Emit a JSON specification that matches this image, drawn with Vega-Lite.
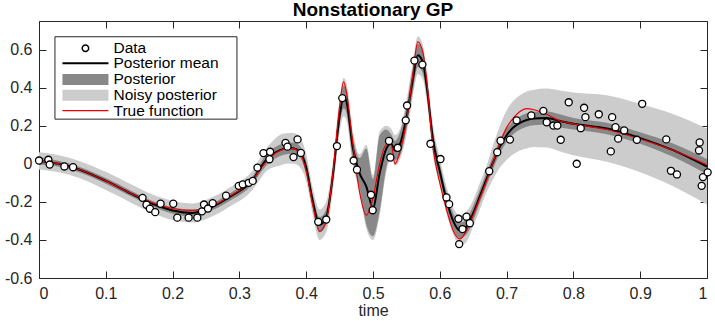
{
  "$schema": "https://vega.github.io/schema/vega-lite/v6.json",
  "width": 668,
  "height": 257,
  "autosize": {"type": "none"},
  "padding": {"left": 39, "top": 21, "right": 8, "bottom": 43},
  "background": "white",
  "title": {"text": "Nonstationary GP", "fontSize": 19, "fontWeight": "bold", "font": "Liberation Sans", "color": "black", "anchor": "middle", "offset": 1},
  "config": {
    "view": {"stroke": "#262626", "strokeWidth": 1},
    "axis": {"labelFont": "Liberation Sans", "labelFontSize": 16, "labelColor": "#262626", "tickColor": "#262626", "titleFont": "Liberation Sans", "titleFontSize": 16, "titleFontWeight": "normal", "titleColor": "#262626", "grid": false, "domain": false, "zindex": 1},
    "legend": {"orient": "none", "padding": 0, "title": null, "labelFont": "Liberation Sans", "labelFontSize": 15.5, "labelColor": "black", "labelLimit": 300, "symbolOpacity": 1}
  },
  "datasets": {
    "curves": [
      {"t":0.00,"m":0.015,"plo":-0.005,"phi":0.035,"nlo":-0.03,"nhi":0.06,"f":0.015},
      {"t":0.03,"m":0.0,"plo":-0.015,"phi":0.015,"nlo":-0.045,"nhi":0.045,"f":0.0},
      {"t":0.06,"m":-0.03,"plo":-0.045,"phi":-0.015,"nlo":-0.075,"nhi":0.015,"f":-0.03},
      {"t":0.10,"m":-0.09,"plo":-0.105,"phi":-0.075,"nlo":-0.138,"nhi":-0.042,"f":-0.09},
      {"t":0.14,"m":-0.16,"plo":-0.175,"phi":-0.145,"nlo":-0.208,"nhi":-0.112,"f":-0.16},
      {"t":0.17,"m":-0.21,"plo":-0.225,"phi":-0.195,"nlo":-0.258,"nhi":-0.162,"f":-0.205},
      {"t":0.20,"m":-0.245,"plo":-0.262,"phi":-0.228,"nlo":-0.295,"nhi":-0.195,"f":-0.235},
      {"t":0.23,"m":-0.258,"plo":-0.276,"phi":-0.24,"nlo":-0.308,"nhi":-0.208,"f":-0.245},
      {"t":0.26,"m":-0.225,"plo":-0.243,"phi":-0.207,"nlo":-0.275,"nhi":-0.175,"f":-0.22},
      {"t":0.29,"m":-0.165,"plo":-0.185,"phi":-0.145,"nlo":-0.215,"nhi":-0.115,"f":-0.16},
      {"t":0.31,"m":-0.12,"plo":-0.14,"phi":-0.10,"nlo":-0.17,"nhi":-0.07,"f":-0.115},
      {"t":0.32,"m":-0.085,"plo":-0.105,"phi":-0.065,"nlo":-0.135,"nhi":-0.035,"f":-0.085},
      {"t":0.33,"m":-0.03,"plo":-0.055,"phi":-0.005,"nlo":-0.085,"nhi":0.025,"f":-0.035},
      {"t":0.34,"m":0.02,"plo":-0.01,"phi":0.05,"nlo":-0.04,"nhi":0.08,"f":0.01},
      {"t":0.35,"m":0.05,"plo":0.02,"phi":0.08,"nlo":-0.02,"nhi":0.12,"f":0.045},
      {"t":0.36,"m":0.07,"plo":0.04,"phi":0.10,"nlo":-0.01,"nhi":0.15,"f":0.068},
      {"t":0.37,"m":0.08,"plo":0.05,"phi":0.11,"nlo":0.0,"nhi":0.16,"f":0.08},
      {"t":0.38,"m":0.082,"plo":0.052,"phi":0.112,"nlo":0.002,"nhi":0.162,"f":0.08},
      {"t":0.39,"m":0.065,"plo":0.035,"phi":0.095,"nlo":-0.015,"nhi":0.145,"f":0.06},
      {"t":0.40,"m":-0.02,"plo":-0.055,"phi":0.015,"nlo":-0.09,"nhi":0.05,"f":-0.04},
      {"t":0.41,"m":-0.20,"plo":-0.235,"phi":-0.165,"nlo":-0.27,"nhi":-0.13,"f":-0.22},
      {"t":0.42,"m":-0.32,"plo":-0.36,"phi":-0.28,"nlo":-0.40,"nhi":-0.24,"f":-0.355},
      {"t":0.43,"m":-0.28,"plo":-0.32,"phi":-0.24,"nlo":-0.36,"nhi":-0.20,"f":-0.30},
      {"t":0.44,"m":-0.06,"plo":-0.10,"phi":-0.02,"nlo":-0.14,"nhi":0.02,"f":-0.05},
      {"t":0.45,"m":0.25,"plo":0.20,"phi":0.30,"nlo":0.16,"nhi":0.34,"f":0.30},
      {"t":0.456,"m":0.35,"plo":0.29,"phi":0.41,"nlo":0.25,"nhi":0.45,"f":0.43},
      {"t":0.46,"m":0.33,"plo":0.27,"phi":0.39,"nlo":0.23,"nhi":0.43,"f":0.38},
      {"t":0.47,"m":0.08,"plo":0.02,"phi":0.14,"nlo":-0.01,"nhi":0.17,"f":0.10},
      {"t":0.48,"m":-0.05,"plo":-0.13,"phi":0.03,"nlo":-0.15,"nhi":0.05,"f":-0.15},
      {"t":0.49,"m":-0.12,"plo":-0.32,"phi":0.08,"nlo":-0.34,"nhi":0.10,"f":-0.27},
      {"t":0.50,"m":-0.23,"plo":-0.38,"phi":-0.08,"nlo":-0.40,"nhi":-0.06,"f":-0.18},
      {"t":0.51,"m":-0.05,"plo":-0.25,"phi":0.15,"nlo":-0.27,"nhi":0.17,"f":0.0},
      {"t":0.52,"m":0.08,"plo":-0.02,"phi":0.18,"nlo":-0.04,"nhi":0.20,"f":0.10},
      {"t":0.527,"m":0.105,"plo":0.055,"phi":0.155,"nlo":0.025,"nhi":0.185,"f":0.10},
      {"t":0.533,"m":0.07,"plo":0.02,"phi":0.12,"nlo":-0.01,"nhi":0.15,"f":0.0},
      {"t":0.54,"m":0.10,"plo":0.04,"phi":0.16,"nlo":0.02,"nhi":0.18,"f":0.06},
      {"t":0.55,"m":0.24,"plo":0.18,"phi":0.30,"nlo":0.15,"nhi":0.33,"f":0.22},
      {"t":0.56,"m":0.45,"plo":0.39,"phi":0.51,"nlo":0.36,"nhi":0.54,"f":0.48},
      {"t":0.567,"m":0.57,"plo":0.51,"phi":0.63,"nlo":0.47,"nhi":0.67,"f":0.64},
      {"t":0.575,"m":0.53,"plo":0.47,"phi":0.59,"nlo":0.44,"nhi":0.62,"f":0.58},
      {"t":0.58,"m":0.42,"plo":0.37,"phi":0.47,"nlo":0.34,"nhi":0.50,"f":0.45},
      {"t":0.59,"m":0.12,"plo":0.07,"phi":0.17,"nlo":0.04,"nhi":0.20,"f":0.08},
      {"t":0.60,"m":-0.04,"plo":-0.08,"phi":0.0,"nlo":-0.11,"nhi":0.03,"f":-0.10},
      {"t":0.61,"m":-0.19,"plo":-0.23,"phi":-0.15,"nlo":-0.26,"nhi":-0.12,"f":-0.24},
      {"t":0.62,"m":-0.30,"plo":-0.34,"phi":-0.26,"nlo":-0.37,"nhi":-0.23,"f":-0.35},
      {"t":0.63,"m":-0.35,"plo":-0.39,"phi":-0.31,"nlo":-0.43,"nhi":-0.27,"f":-0.395},
      {"t":0.64,"m":-0.33,"plo":-0.37,"phi":-0.29,"nlo":-0.41,"nhi":-0.25,"f":-0.35},
      {"t":0.65,"m":-0.26,"plo":-0.30,"phi":-0.22,"nlo":-0.33,"nhi":-0.19,"f":-0.27},
      {"t":0.66,"m":-0.17,"plo":-0.205,"phi":-0.135,"nlo":-0.24,"nhi":-0.10,"f":-0.18},
      {"t":0.67,"m":-0.08,"plo":-0.115,"phi":-0.045,"nlo":-0.15,"nhi":-0.01,"f":-0.09},
      {"t":0.68,"m":0.01,"plo":-0.025,"phi":0.045,"nlo":-0.08,"nhi":0.10,"f":0.01},
      {"t":0.69,"m":0.09,"plo":0.055,"phi":0.125,"nlo":-0.02,"nhi":0.20,"f":0.11},
      {"t":0.70,"m":0.15,"plo":0.115,"phi":0.185,"nlo":0.02,"nhi":0.28,"f":0.19},
      {"t":0.71,"m":0.19,"plo":0.155,"phi":0.225,"nlo":0.05,"nhi":0.33,"f":0.24},
      {"t":0.72,"m":0.215,"plo":0.18,"phi":0.25,"nlo":0.07,"nhi":0.36,"f":0.275},
      {"t":0.73,"m":0.23,"plo":0.195,"phi":0.265,"nlo":0.08,"nhi":0.38,"f":0.29},
      {"t":0.74,"m":0.238,"plo":0.203,"phi":0.273,"nlo":0.088,"nhi":0.388,"f":0.285},
      {"t":0.76,"m":0.24,"plo":0.205,"phi":0.275,"nlo":0.085,"nhi":0.395,"f":0.26},
      {"t":0.78,"m":0.225,"plo":0.19,"phi":0.26,"nlo":0.065,"nhi":0.385,"f":0.225},
      {"t":0.80,"m":0.21,"plo":0.18,"phi":0.24,"nlo":0.045,"nhi":0.375,"f":0.21},
      {"t":0.85,"m":0.185,"plo":0.155,"phi":0.215,"nlo":0.01,"nhi":0.36,"f":0.18},
      {"t":0.90,"m":0.135,"plo":0.105,"phi":0.165,"nlo":-0.045,"nhi":0.315,"f":0.13},
      {"t":0.95,"m":0.07,"plo":0.035,"phi":0.105,"nlo":-0.12,"nhi":0.26,"f":0.07},
      {"t":1.00,"m":-0.015,"plo":-0.055,"phi":0.025,"nlo":-0.215,"nhi":0.185,"f":-0.005}
    ],
    "pts": [
      {"t":0.000,"v":0.017},{"t":0.014,"v":0.021},{"t":0.016,"v":-0.004},{"t":0.038,"v":-0.014},{"t":0.051,"v":-0.018},
      {"t":0.155,"v":-0.179},{"t":0.161,"v":-0.215},{"t":0.166,"v":-0.236},{"t":0.174,"v":-0.254},{"t":0.182,"v":-0.210},
      {"t":0.201,"v":-0.210},{"t":0.207,"v":-0.283},{"t":0.224,"v":-0.283},{"t":0.237,"v":-0.283},{"t":0.244,"v":-0.250},
      {"t":0.247,"v":-0.214},{"t":0.253,"v":-0.235},{"t":0.260,"v":-0.207},{"t":0.280,"v":-0.168},{"t":0.299,"v":-0.116},
      {"t":0.305,"v":-0.108},{"t":0.314,"v":-0.100},{"t":0.320,"v":-0.090},{"t":0.327,"v":-0.020},{"t":0.336,"v":0.056},
      {"t":0.346,"v":0.063},{"t":0.345,"v":0.024},{"t":0.369,"v":0.110},{"t":0.372,"v":0.090},{"t":0.387,"v":0.128},
      {"t":0.392,"v":0.057},{"t":0.381,"v":0.035},{"t":0.418,"v":-0.305},{"t":0.430,"v":-0.293},{"t":0.446,"v":0.093},
      {"t":0.454,"v":0.345},{"t":0.471,"v":0.017},{"t":0.476,"v":-0.031},{"t":0.497,"v":-0.163},{"t":0.4995,"v":-0.244},
      {"t":0.524,"v":0.120},{"t":0.526,"v":0.033},{"t":0.537,"v":0.084},{"t":0.549,"v":0.228},{"t":0.551,"v":0.306},
      {"t":0.562,"v":0.542},{"t":0.574,"v":0.521},{"t":0.586,"v":0.105},{"t":0.601,"v":0.025},{"t":0.610,"v":-0.177},
      {"t":0.614,"v":-0.212},{"t":0.628,"v":-0.289},{"t":0.634,"v":-0.343},{"t":0.640,"v":-0.278},{"t":0.645,"v":-0.312},
      {"t":0.629,"v":-0.422},{"t":0.674,"v":-0.039},{"t":0.686,"v":0.061},{"t":0.691,"v":0.121},{"t":0.705,"v":0.127},
      {"t":0.715,"v":0.228},{"t":0.737,"v":0.254},{"t":0.755,"v":0.278},{"t":0.760,"v":0.218},{"t":0.770,"v":0.201},
      {"t":0.776,"v":0.201},{"t":0.781,"v":0.126},{"t":0.793,"v":0.323},{"t":0.805,"v":0.000},{"t":0.811,"v":0.187},
      {"t":0.816,"v":0.294},{"t":0.818,"v":0.245},{"t":0.838,"v":0.260},{"t":0.856,"v":0.065},{"t":0.858,"v":0.245},
      {"t":0.863,"v":0.192},{"t":0.867,"v":0.132},{"t":0.876,"v":0.175},{"t":0.895,"v":0.126},{"t":0.903,"v":0.315},
      {"t":0.939,"v":0.128},{"t":0.946,"v":-0.037},{"t":0.955,"v":-0.056},{"t":0.989,"v":0.112},{"t":0.988,"v":0.070},
      {"t":0.994,"v":-0.070},{"t":0.992,"v":-0.116},{"t":1.001,"v":-0.045}
    ]
  },
  "resolve": {"axis": {"x": "independent", "y": "independent"}, "scale": {"color": "independent"}, "legend": {"color": "independent"}},
  "layer": [
    {
      "data": {"name": "curves"},
      "mark": {"type": "point", "filled": true, "opacity": 0},
      "encoding": {
        "x": {"field": "t", "type": "quantitative", "scale": {"domain": [0, 1], "nice": false, "zero": false},
              "axis": {"orient": "top", "values": [0,0.1,0.2,0.3,0.4,0.5,0.6,0.7,0.8,0.9,1], "labels": false, "tickSize": -7, "title": null}},
        "y": {"field": "m", "type": "quantitative", "scale": {"domain": [-0.6, 0.75], "nice": false, "zero": false},
              "axis": {"orient": "right", "values": [-0.6,-0.4,-0.2,0,0.2,0.4,0.6], "labels": false, "tickSize": -7, "title": null}},
        "color": {"datum": "box", "type": "nominal", "scale": {"domain": ["box"], "range": ["white"]},
          "legend": {"legendX": 16, "legendY": 49.2, "symbolType": "M-18.2,-8.24H18.2V8.24H-18.2Z", "symbolSize": 100, "symbolOffset": 83.2, "symbolStrokeColor": "#262626", "symbolStrokeWidth": 1, "symbolFillColor": "white", "symbolOpacity": 1, "labelExpr": "''"}}
      }
    },
    {
      "data": {"name": "curves"},
      "mark": {"type": "area", "interpolate": "monotone", "opacity": 1},
      "encoding": {
        "x": {"field": "t", "type": "quantitative",
              "axis": {"orient": "bottom", "values": [0,0.1,0.2,0.3,0.4,0.5,0.6,0.7,0.8,0.9,1], "format": ".1~f", "tickSize": -7, "labelPadding": 14, "title": "time", "titlePadding": 1}},
        "y": {"field": "nlo", "type": "quantitative",
              "axis": {"orient": "left", "values": [-0.6,-0.4,-0.2,0,0.2,0.4,0.6], "labelExpr": "replace(format(datum.value, '.1~f'), '\u2212', '-')", "tickSize": -7, "labelPadding": 14, "title": null}},
        "y2": {"field": "nhi"},
        "color": {"datum": "Noisy posterior", "type": "nominal", "scale": {"domain": ["Noisy posterior"], "range": ["#cccccc"]},
          "legend": {"legendX": 16, "legendY": 66.5, "symbolType": "M-4.6,-1.1H4.6V1.1H-4.6Z", "symbolSize": 100, "symbolOffset": 22.7, "labelOffset": 20.3, "symbolStrokeWidth": 0}}
      }
    },
    {
      "data": {"name": "curves"},
      "mark": {"type": "area", "interpolate": "monotone", "opacity": 1},
      "encoding": {
        "x": {"field": "t", "type": "quantitative", "axis": null},
        "y": {"field": "plo", "type": "quantitative", "axis": null},
        "y2": {"field": "phi"},
        "color": {"datum": "Posterior", "type": "nominal", "scale": {"domain": ["Posterior"], "range": ["#888888"]},
          "legend": {"legendX": 16, "legendY": 50.7, "symbolType": "M-4.6,-1.1H4.6V1.1H-4.6Z", "symbolSize": 100, "symbolOffset": 22.7, "labelOffset": 20.3, "symbolStrokeWidth": 0}}
      }
    },
    {
      "data": {"name": "curves"},
      "mark": {"type": "line", "interpolate": "monotone", "strokeWidth": 2},
      "encoding": {
        "x": {"field": "t", "type": "quantitative", "axis": null},
        "y": {"field": "m", "type": "quantitative", "axis": null},
        "color": {"datum": "Posterior mean", "type": "nominal", "scale": {"domain": ["Posterior mean"], "range": ["black"]},
          "legend": {"legendX": 16, "legendY": 34.5, "symbolType": "M-4.6,0H4.6", "symbolSize": 100, "symbolOffset": 22.7, "labelOffset": 20.3, "symbolStrokeWidth": 2}}
      }
    },
    {
      "data": {"name": "curves"},
      "mark": {"type": "line", "interpolate": "monotone", "strokeWidth": 1.2},
      "encoding": {
        "x": {"field": "t", "type": "quantitative", "axis": null},
        "y": {"field": "f", "type": "quantitative", "axis": null},
        "color": {"datum": "True function", "type": "nominal", "scale": {"domain": ["True function"], "range": ["#ee0000"]},
          "legend": {"legendX": 16, "legendY": 81.9, "symbolType": "M-4.6,0H4.6", "symbolSize": 100, "symbolOffset": 22.7, "labelOffset": 20.3, "symbolStrokeWidth": 1.2}}
      }
    },
    {
      "data": {"name": "pts"},
      "mark": {"type": "point", "shape": "circle", "filled": false, "fill": "white", "fillOpacity": 1, "size": 50, "strokeWidth": 1.3, "opacity": 1},
      "encoding": {
        "x": {"field": "t", "type": "quantitative", "axis": null},
        "y": {"field": "v", "type": "quantitative", "axis": null},
        "color": {"datum": "Data", "type": "nominal", "scale": {"domain": ["Data"], "range": ["black"]},
          "legend": {"legendX": 16, "legendY": 19.5, "symbolType": "circle", "symbolSize": 42, "symbolOffset": 22.7, "labelOffset": 20.3, "symbolStrokeWidth": 1.5, "symbolFillColor": "white"}}
      }
    }
  ]
}
